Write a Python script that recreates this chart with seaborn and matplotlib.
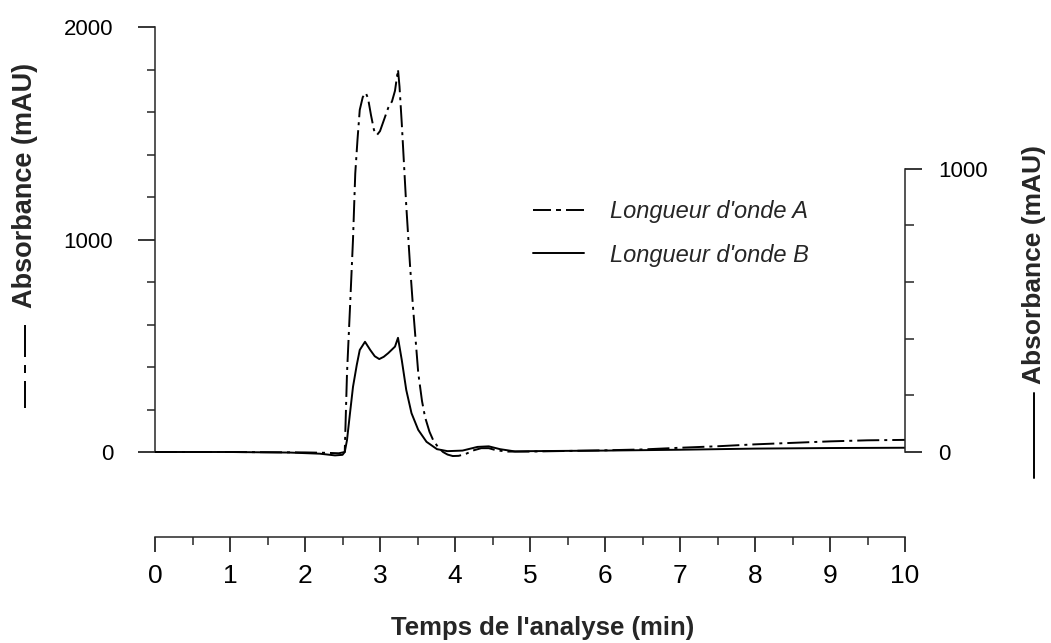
import matplotlib
matplotlib.use("Agg")
import matplotlib.pyplot as plt
import seaborn as sns
from matplotlib.ticker import MultipleLocator, FixedLocator
from matplotlib.lines import Line2D

# ---------------- data ----------------
time_a = [0.0, 1.0, 2.0, 2.3, 2.45, 2.53, 2.56, 2.60, 2.64, 2.67, 2.70, 2.73,
          2.77, 2.81, 2.84, 2.88, 2.92, 2.96, 3.00, 3.06, 3.11, 3.16, 3.20,
          3.24, 3.26, 3.29, 3.35, 3.40, 3.44, 3.51, 3.56, 3.60, 3.66, 3.71,
          3.78, 3.84, 3.90, 3.97, 4.05, 4.15, 4.25, 4.35, 4.45, 4.55, 4.70,
          5.0, 5.5, 6.0, 6.5, 7.0, 7.5, 8.0, 8.5, 9.0, 9.5, 10.0]
abs_a = [0, 0, -2, -4, -6, 0, 370, 680, 1000, 1310, 1470, 1610,
         1670, 1690, 1665, 1585, 1515, 1492, 1510, 1570, 1620, 1650, 1700,
         1800, 1720, 1548, 1160, 880, 682, 372, 240, 165, 95, 55,
         20, 0, -12, -19, -18, -8, 8, 18, 18, 8, 2,
         2, 5, 8, 12, 20, 27, 36, 43, 50, 55, 57]

time_b = [0.0, 1.0, 1.8, 2.2, 2.4, 2.5, 2.53, 2.56, 2.60, 2.64, 2.69, 2.73,
          2.80, 2.87, 2.93, 2.99, 3.05, 3.11, 3.20, 3.24, 3.29, 3.35, 3.42,
          3.51, 3.62, 3.76, 3.90, 4.10, 4.30, 4.45, 4.60, 4.80, 5.0, 6.0,
          7.0, 8.0, 9.0, 10.0]
abs_b = [0, 0, -2, -6, -12, -10, 0, 42, 137, 230, 307, 360,
         389, 360, 338, 328, 336, 349, 372, 403, 325, 219, 137,
         78, 36, 10, 3, 5, 18, 20, 10, 2, 3, 5,
         8, 12, 14, 15]

x_ticks = [0, 1, 2, 3, 4, 5, 6, 7, 8, 9, 10]
left_ticks = [0, 1000, 2000]
right_ticks = [0, 1000]
label_a = "Longueur d'onde A"
label_b = "Longueur d'onde B"
y_title = "Absorbance (mAU)"
x_title = "Temps de l'analyse (min)"

# ---------------- style ----------------
sns.set_style("ticks")
plt.rcParams['font.family'] = ['Liberation Sans', 'DejaVu Sans']
plt.rcParams['axes.linewidth'] = 1.1

W, H = 1051, 643
fig = plt.figure(figsize=(W / 100, H / 100), dpi=100)
fig.patch.set_facecolor('white')

px_left, px_right, px_top, px_bot = 155, 905, 27, 473.25
ax = fig.add_axes([px_left / W, 1 - px_bot / H,
                   (px_right - px_left) / W, (px_bot - px_top) / H])
ax.set_facecolor('none')
ax2 = ax.twinx()

lw = 1.4
u = lw * 100 / 72.0  # px per dash unit


def pxd(seq):
    return [s / u for s in seq]


sns.lineplot(x=time_a, y=abs_a, ax=ax, color='black', linewidth=lw,
             legend=False, sort=False, estimator=None)
sns.lineplot(x=time_b, y=abs_b, ax=ax2, color='black', linewidth=lw,
             legend=False, sort=False, estimator=None)
ax.lines[0].set_dashes(pxd([22, 5, 3, 5]))

ax.set_xlim(0, 10)
ax.set_ylim(-100, 2000)
ax2.set_ylim(-75, 1500)

# spines
ax.spines['top'].set_visible(False)
ax.spines['right'].set_visible(False)
ax.spines['left'].set_bounds(0, 2000)
ax.spines['bottom'].set_position(('outward', 46))
ax.spines['bottom'].set_bounds(0, 10)
for s in ['top', 'left', 'bottom']:
    ax2.spines[s].set_visible(False)
ax2.spines['right'].set_bounds(0, 1000)
ax2.spines['right'].set_linewidth(1.1)

# ticks
ax.set_xticks(x_ticks)
ax.set_xticklabels([str(t) for t in x_ticks], fontsize=19)
ax.xaxis.set_minor_locator(MultipleLocator(0.5))
ax.set_yticks(left_ticks)
ax.set_yticklabels([str(t) for t in left_ticks], fontsize=16)
ax.yaxis.set_minor_locator(FixedLocator(list(range(200, 2000, 200))))
ax2.set_yticks(right_ticks)
ax2.set_yticklabels([str(t) for t in right_ticks], fontsize=16)
ax2.yaxis.set_minor_locator(FixedLocator([200, 400, 600, 800]))

ax.tick_params(axis='x', which='major', direction='out', length=11, width=1.1,
               pad=8, colors='black')
ax.tick_params(axis='x', which='minor', direction='out', length=6, width=1.1)
ax.tick_params(axis='y', which='major', direction='out', length=12, width=1.1,
               pad=18, colors='black')
ax.tick_params(axis='y', which='minor', direction='out', length=6, width=1.1)
ax2.tick_params(axis='y', which='major', direction='out', length=12, width=1.1,
                pad=12, colors='black')
ax2.tick_params(axis='y', which='minor', direction='out', length=6.5, width=1.1)

# axis titles
ax.set_xlabel(x_title, fontsize=18.5, fontweight='bold')
ax.xaxis.set_label_coords((543 - px_left) / 750, (px_bot - 628) / (px_bot - px_top))
ax.xaxis.label.set_va('center')

ax.set_ylabel(y_title, fontsize=19.5, fontweight='bold')
ax.yaxis.set_label_coords((25 - px_left) / 750, (px_bot - 185) / (px_bot - px_top))
ax.yaxis.label.set_va('center')

ax2.set_ylabel(y_title, fontsize=19, fontweight='bold', rotation=90)
ax2.yaxis.set_label_coords((1034 - px_left) / 750, (px_bot - 265) / (px_bot - px_top))
ax2.yaxis.label.set_va('center')

# line keys next to the axis titles
fig.add_artist(Line2D([25 / W, 25 / W], [1 - 325 / H, 1 - 408 / H], color='black',
                      lw=lw, dashes=pxd([32, 8, 8, 8])))
fig.add_artist(Line2D([1034 / W, 1034 / W], [1 - 393 / H, 1 - 478 / H],
                      color='black', lw=lw))

# legend
h_a = Line2D([], [], color='black', lw=lw, dashes=pxd([18, 5, 5, 5]))
h_b = Line2D([], [], color='black', lw=lw)
ax.legend([h_a, h_b], [label_a, label_b], loc='center left',
          bbox_to_anchor=(521 / W, 1 - 233.5 / H), bbox_transform=fig.transFigure,
          frameon=False, borderpad=0, handlelength=2.15, handletextpad=1.1,
          labelspacing=0.85, prop={'size': 17, 'style': 'italic'})

fig.savefig("out.png", dpi=100, facecolor='white')
